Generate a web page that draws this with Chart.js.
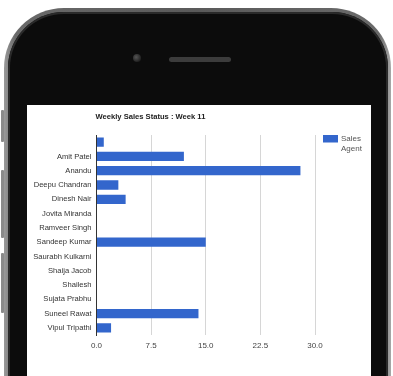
<!DOCTYPE html>
<html>
<head>
<meta charset="utf-8">
<script src="https://cdn.jsdelivr.net/npm/chart.js@4"></script>
<style>
    html, body { margin: 0; padding: 0; background: #fff; width: 393px; height: 376px; overflow: hidden; }
    .phone {
        position: absolute; left: 4px; top: 8px; width: 387px; height: 440px;
        border-radius: 60px;
        background: linear-gradient(90deg, #9a9a9a, #6a6a6a 3%, #5a5a5a 50%, #6a6a6a 97%, #a8a8a8);
    }
    .body {
        position: absolute; left: 4px; top: 4px; right: 3px; bottom: 0;
        border-radius: 56px;
        background: #0c0c0c;
        box-shadow: inset 0 0 0 2px #2a2a2a;
    }
    .btn { position: absolute; left: 1px; width: 3px; background: #8a8a8a; border-radius: 1px; }
    .cam {
        position: absolute; left: 133px; top: 54px; width: 8px; height: 8px; border-radius: 50%;
        background: radial-gradient(circle at 40% 40%, #555, #222 70%);
    }
    .speaker {
        position: absolute; left: 169px; top: 57px; width: 62px; height: 5px; border-radius: 3px;
        background: #3c3c3c;
    }
    .screen { position: absolute; left: 27px; top: 105px; width: 344px; height: 271px; background: #fff; }
    #chart { position: absolute; left: 0; top: 0; }
</style>
</head>
<body>
<div class="btn" style="top:110px;height:32px"></div>
<div class="btn" style="top:170px;height:68px"></div>
<div class="btn" style="top:253px;height:60px"></div>
<div class="phone"><div class="body"></div></div>
<div class="cam"></div>
<div class="speaker"></div>
<div class="screen"><canvas id="chart" width="344" height="271"></canvas></div>
<script>
// Chart data
const agents = ['', 'Amit Patel', 'Anandu', 'Deepu Chandran', 'Dinesh Nair', 'Jovita Miranda', 'Ramveer Singh',
    'Sandeep Kumar', 'Saurabh Kulkarni', 'Shaija Jacob', 'Shailesh', 'Sujata Prabhu', 'Suneel Rawat', 'Vipul Tripathi'];
const sales = [1, 12, 28, 3, 4, 0, 0, 15, 0, 0, 0, 0, 14, 2];
const xTicks = [0, 7.5, 15, 22.5, 30];
const chartTitle = 'Weekly Sales Status : Week 11';
const seriesName = ['Sales', 'Agent'];

const FONT = 'Arial, "Liberation Sans", sans-serif';

// Title drawn at the left edge of the plot area, legend on the right
const titleAndLegend = {
    id: 'titleAndLegend',
    afterDraw(chart) {
        const ctx = chart.ctx;
        const area = chart.chartArea;
        ctx.save();
        ctx.font = 'bold 7.6px ' + FONT;
        ctx.fillStyle = '#222';
        ctx.textBaseline = 'middle';
        ctx.textAlign = 'left';
        ctx.fillText(chartTitle, area.left - 1, 12);

        ctx.fillStyle = '#3366cc';
        ctx.fillRect(area.right + 8, area.top, 15, 7.5);
        ctx.font = '8px ' + FONT;
        ctx.fillStyle = '#555';
        seriesName.forEach((line, i) => {
            ctx.fillText(line, area.right + 26, area.top + 4 + i * 10);
        });
        ctx.restore();
    }
};

new Chart(document.getElementById('chart'), {
    type: 'bar',
    data: {
        labels: agents,
        datasets: [{
            label: seriesName.join(' '),
            data: sales,
            backgroundColor: '#3366cc',
            borderWidth: 0,
            categoryPercentage: 1,
            barPercentage: 0.65
        }]
    },
    options: {
        indexAxis: 'y',
        responsive: false,
        animation: false,
        layout: { padding: { left: 0, right: 56, top: 30, bottom: 21 } },
        plugins: {
            legend: { display: false },
            title: { display: false },
            tooltip: { enabled: false }
        },
        scales: {
            x: {
                min: 0,
                max: 30,
                afterBuildTicks: scale => { scale.ticks = xTicks.map(v => ({ value: v })); },
                afterFit: scale => { scale.height = 20; },
                ticks: {
                    font: { family: FONT, size: 8 },
                    color: '#444',
                    padding: 6,
                    callback: v => v.toFixed(1)
                },
                grid: {
                    color: ctx => ctx.tick && ctx.tick.value === 0 ? 'rgba(0,0,0,0)' : '#d6d6d6',
                    drawTicks: false
                },
                border: { display: false }
            },
            y: {
                afterFit: scale => { scale.width = 69.5; },
                ticks: {
                    font: { family: FONT, size: 7.6 },
                    color: '#333',
                    padding: 5
                },
                grid: { display: false, drawTicks: false },
                border: { display: true, color: '#333', width: 1 }
            }
        }
    },
    plugins: [titleAndLegend]
});
</script>
</body>
</html>
